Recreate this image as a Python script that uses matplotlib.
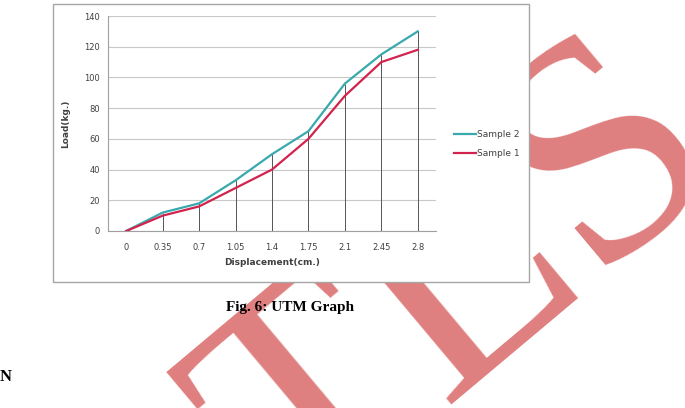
import matplotlib.pyplot as plt
from matplotlib.patches import Rectangle

# data
displacement = ['0', '0.35', '0.7', '1.05', '1.4', '1.75', '2.1', '2.45', '2.8']
sample2 = [0, 12, 18, 33, 50, 65, 96, 115, 130]
sample1 = [0, 10, 16, 28, 40, 60, 88, 110, 118]

W, H = 685, 408
fig = plt.figure(figsize=(W / 100, H / 100), dpi=100)

# watermark, sits behind the chart box
fig.text(463 / W, 1 - 290 / H, 'TLS', family='Liberation Serif', fontsize=230,
         color='#df7f7f', rotation=40, ha='center', va='center', zorder=0.5)

# chart border (Excel chart area), white fill hides the watermark
fig.patches.append(Rectangle((53 / W, 1 - 282 / H), (529 - 53) / W, (282 - 4) / H,
                             transform=fig.transFigure, facecolor='white',
                             edgecolor='#a6a6a6', linewidth=1.0, zorder=1))

ax = fig.add_axes([108 / W, 1 - 231 / H, 328 / W, 215 / H])
ax.set_zorder(2)
x = range(len(displacement))
ax.plot(x, sample2, color='#3aa9ad', linewidth=1.6, label='Sample 2', zorder=3)
ax.plot(x, sample1, color='#d2234e', linewidth=1.6, label='Sample 1', zorder=3)

# drop lines down to the axis
top = [max(a, b) for a, b in zip(sample1, sample2)]
ax.vlines(x, 0, top, color='#555555', linewidth=0.7, zorder=2)

ax.set_xlim(-0.5, len(displacement) - 0.5)
ax.set_ylim(0, 140)
ax.set_yticks(range(0, 141, 20))
ax.set_xticks(list(x))
ax.set_xticklabels(displacement)
ax.grid(axis='y', color='#c8c8c8', linewidth=0.8)
ax.set_axisbelow(True)
for s in ['top', 'right']:
    ax.spines[s].set_visible(False)
ax.spines['left'].set_color('#a0a0a0')
ax.spines['bottom'].set_color('#a0a0a0')
ax.tick_params(axis='both', length=0, labelsize=6, colors='#404040', pad=6)
ax.tick_params(axis='x', pad=9)
ax.set_xlabel('Displacement(cm.)', fontsize=6.5, fontweight='bold', color='#404040', labelpad=4)
ax.set_ylabel('Load(kg.)', fontsize=6.5, fontweight='bold', color='#404040', labelpad=10)

leg = fig.legend(loc='upper left', bbox_to_anchor=(446 / W, 1 - 122 / H), frameon=False,
                 fontsize=6.5, handlelength=2.4, handletextpad=0.1, labelspacing=1.1,
                 labelcolor='#404040')
leg.set_zorder(5)

fig.text(290 / W, 1 - 307 / H, 'Fig. 6: UTM Graph', family='Liberation Serif',
         fontweight='bold', fontsize=11, ha='center', va='center', zorder=5)
fig.text(0, 1 - 377 / H, 'N', family='Liberation Serif', fontweight='bold',
         fontsize=12, ha='left', va='center', zorder=5)

fig.savefig('out.png', dpi=100)
